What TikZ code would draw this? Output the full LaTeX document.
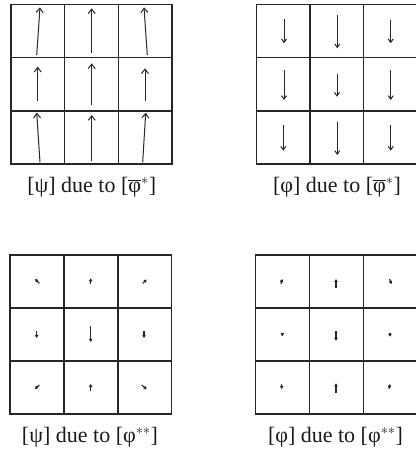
\documentclass[tikz,border=0pt]{standalone}
\usepackage{fontspec}
\setmainfont{Liberation Serif}
\usetikzlibrary{arrows.meta}
\tikzset{
  %% Cell grid lines
  gridln/.style={draw=black!85, line width=1.4pt, line cap=rect},
  %% Field arrows
  bigarr/.style={-{Straight Barb[length=4.5pt,width=7pt]},
                 draw=black!85, line width=1pt},
  midarr/.style={-{Straight Barb[length=3.5pt,width=5pt]},
                 draw=black!85, line width=1pt},
  tinyarr/.style={-{Straight Barb[length=2pt,width=2.5pt]},
                  draw=black!85, line width=1.1pt},
  %% Panel caption
  capt/.style={font=\fontsize{22}{26}\selectfont, text=black!90,
               inner sep=0pt},
}

\begin{document}
\begin{tikzpicture}[x=1pt, y=-1pt]

  \useasboundingbox (0,0) rectangle (416,451);

  %% Four 3x3 grids
  \foreach \gx/\gy/\cw/\ch in {11/4.5/53.7/53.2, 256.3/4.5/53.7/53.2,
                               10/255/53.9/53, 255.7/255/53.8/53} {
    \foreach \i in {0,...,3} {
      \draw[gridln] (\gx+\i*\cw, \gy) -- ++(0, 3*\ch);
      \draw[gridln] (\gx, \gy+\i*\ch) -- ++(3*\cw, 0);
    }
  }

  %% [psi] due to [phi-bar*]: upward arrows
  \foreach \ax/\ay/\bx/\by in {36.7/55/40/7.3, 91.7/53/91.7/8.3,
                               147.3/55/144/7.3,
                               37.7/100.7/37.7/66.7, 91.7/105/91.7/63.3,
                               145/100.7/145/68.3,
                               40/162.3/36.7/112.7, 91.7/160.7/91.7/115,
                               142.7/162.3/145.7/112.7}
    \draw[bigarr] (\ax,\ay) -- (\bx,\by);

  %% [phi] due to [phi-bar*]: downward arrows
  \foreach \ax/\ay/\bx/\by in {284/19.3/284/43.3, 337.3/15/337.3/48.3,
                               390.7/20/390.7/43.3,
                               284/70/284/100, 337/74/337/96.7,
                               390.7/70/390.7/100,
                               283.3/125/283.3/150.7, 337.3/121.7/337.3/155,
                               390.7/125/390.7/150.7}
    \draw[midarr] (\ax,\ay) -- (\bx,\by);

  %% [psi] due to [phi**]: tiny arrows
  \foreach \ax/\ay/\bx/\by in {39.3/283.3/35/279, 90.7/284/90.7/278.3,
                               142.7/283.3/146.7/279.5,
                               36.7/330.7/36.7/338, 90.7/326.3/90.7/342,
                               144/331.3/144/338,
                               39.3/385/35/389, 90.7/390.7/90.7/384,
                               141.7/385/146.7/389.3}
    \draw[tinyarr] (\ax,\ay) -- (\bx,\by);

  %% [phi] due to [phi**]: tiny arrows
  \foreach \ax/\ay/\bx/\by in {281/284/282.3/279, 336/288.3/336/279,
                               389.3/279/391.7/284,
                               282.3/333/282.3/336.3, 336/331.3/336/340.7,
                               390/333/390/336.7,
                               281.7/384/281.7/389, 336/393.3/336/383.3,
                               389/389/390/384}
    \draw[tinyarr] (\ax,\ay) -- (\bx,\by);

  %% Captions
  \node[capt] (capPsiBar) at (91.7,187)
       {[ψ] due to [$\overline{\mbox{φ}}^{*}$]};
  \node[capt] (capPhiBar) at (337,187)
       {[φ] due to [$\overline{\mbox{φ}}^{*}$]};
  \node[capt] (capPsiSt)  at (90,437)
       {[ψ] due to [φ$^{**}$]};
  \node[capt] (capPhiSt)  at (335.5,437)
       {[φ] due to [φ$^{**}$]};

\end{tikzpicture}
\end{document}
